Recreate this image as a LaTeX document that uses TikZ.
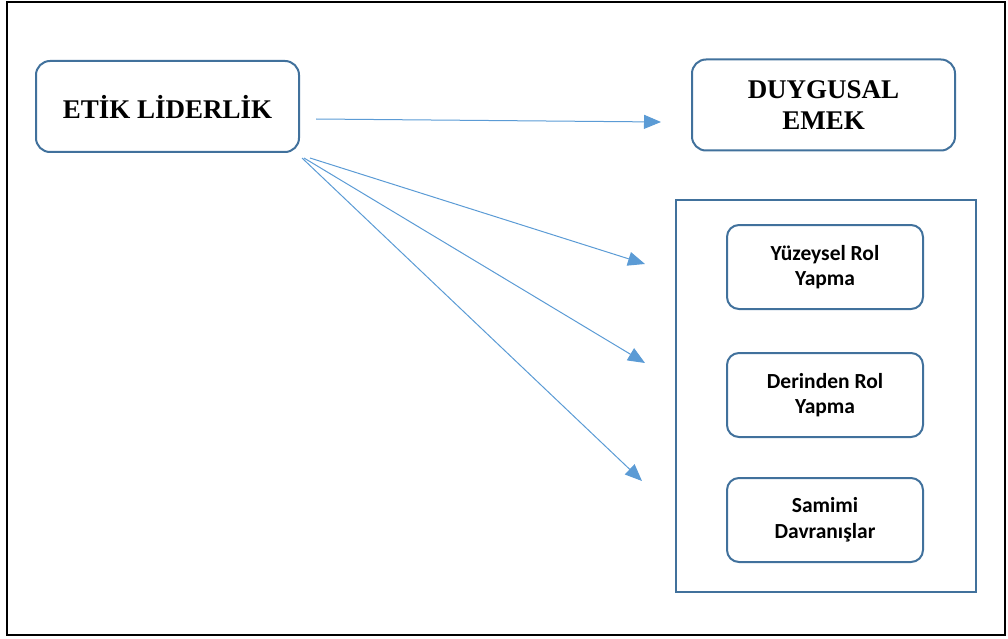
\documentclass[tikz,border=0pt]{standalone}
\usepackage{fontspec}
\setmainfont{Liberation Serif}
\newfontfamily\calibri{Carlito}
\usetikzlibrary{arrows.meta, calc}
\definecolor{boxBlue}{HTML}{41719C}
\definecolor{arrowBlue}{HTML}{5B9BD5}
\tikzstyle{arrow}    = [-{Triangle[length=17pt, width=14pt]}, line width=1pt, arrowBlue]

\begin{document}
\begin{tikzpicture}[x=1pt, y=-1pt,
  mainbox/.style={draw=boxBlue, line width=2pt, rounded corners=14pt, align=center, minimum width=263pt, minimum height=91pt, font=\fontsize{27}{31}\selectfont\bfseries},
  dimbox/.style={draw=boxBlue, line width=2pt, rounded corners=12pt, align=center, minimum width=196pt, minimum height=84pt, font=\calibri\fontsize{21.5}{25.5}\selectfont\bfseries}
]
\useasboundingbox (0,0) rectangle (1008,639);
% Outer frame
\draw[line width=2pt] (7,2) rectangle (1005,635);

% Main concepts
\node[mainbox] (etik) at (167.5,106.5) {ETİK LİDERLİK};
\node[mainbox] (duygusal) at (823.5,105) {DUYGUSAL\\EMEK};

% Dimensions frame
\node[draw=boxBlue, line width=2pt, minimum width=300pt, minimum height=392pt] (boyutlar) at (826,396) {};
\node[dimbox] (yuzeysel) at (825,267) {Yüzeysel Rol\\Yapma};
\node[dimbox] (derinden) at (825,395) {Derinden Rol\\Yapma};
\node[dimbox] (samimi) at (825,520) {Samimi\\Davranışlar};

% Arrows
\draw[arrow] ($(etik.east)+(16,12.5)$) -- ($(duygusal.west)+(-30,17)$);
\draw[arrow] ($(etik.south east)+(10,5)$) -- ($(boyutlar.west)+(-30,-132)$);
\draw[arrow] ($(etik.south east)+(4,5)$) -- ($(boyutlar.west)+(-30,-33)$);
\draw[arrow] ($(etik.south east)+(2,5)$) -- ($(boyutlar.west)+(-33,85)$);

\end{tikzpicture}
\end{document}
